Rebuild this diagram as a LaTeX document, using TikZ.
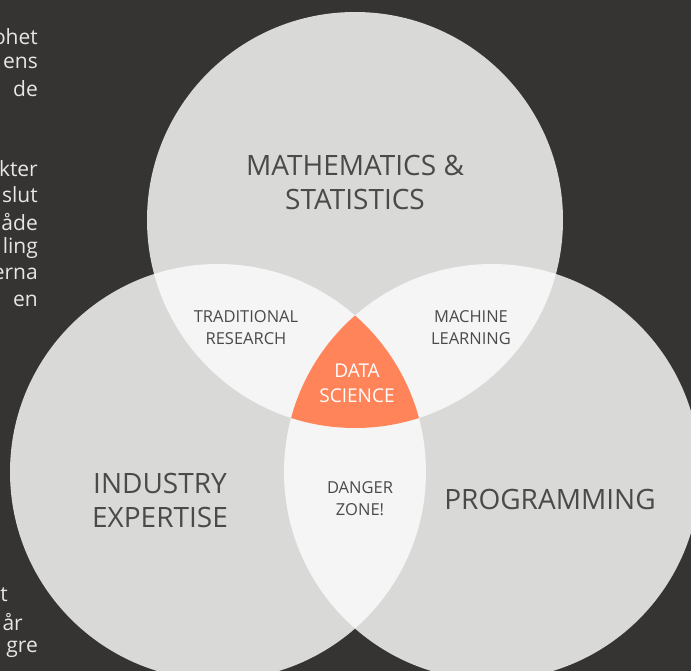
\documentclass[tikz,border=0pt]{standalone}
\usepackage{fontspec}
\setmainfont{Open Sans}
\usepackage{tikz}

\definecolor{slate}{HTML}{353433}
\definecolor{setgray}{HTML}{D9D9D8}
\definecolor{pairgray}{HTML}{F5F5F5}
\definecolor{coral}{HTML}{FF845A}
\definecolor{inkgray}{HTML}{4A4A4A}
\definecolor{margintext}{HTML}{E6E6E6}

\tikzset{
  biglabel/.style={text=inkgray,align=center,font=\fontsize{28}{34}\selectfont},
  smalllabel/.style={text=inkgray,align=center,font=\fontsize{16.5}{22}\selectfont},
  marginline/.style={text=margintext,anchor=east,inner sep=0pt,font=\fontsize{21}{24}\selectfont}
}

\def\topset{(355,220) circle (208)}
\def\leftset{(218,472) circle (208)}
\def\rightset{(492,472) circle (208)}

\begin{document}
\begin{tikzpicture}[x=1pt,y=-1pt]
\useasboundingbox (0,0) rectangle (691,671);
\clip (0,0) rectangle (691,671);
\fill[slate] (0,0) rectangle (691,671);

% the three sets
\fill[setgray] \topset;
\fill[setgray] \leftset;
\fill[setgray] \rightset;

% pairwise overlaps
\begin{scope}
  \clip \topset;
  \fill[pairgray] \leftset;
  \fill[pairgray] \rightset;
\end{scope}
\begin{scope}
  \clip \leftset;
  \fill[pairgray] \rightset;
\end{scope}

% centre
\begin{scope}
  \clip \topset;
  \clip \leftset;
  \fill[coral] \rightset;
\end{scope}

\node[biglabel] (maths) at (355,182) {MATHEMATICS \&\\STATISTICS};
\node[biglabel] (industry) at (160,500) {INDUSTRY\\EXPERTISE};
\node[biglabel] (prog) at (550,499) {PROGRAMMING};

\node[smalllabel] (research) at (246,328) {TRADITIONAL\\RESEARCH};
\node[smalllabel] (ml) at (471,328) {MACHINE\\LEARNING};
\node[smalllabel] (danger) at (360,499) {DANGER\\ZONE!};
\node[smalllabel,text=white,font=\fontsize{19}{25}\selectfont] (ds) at (357,383) {DATA\\SCIENCE};

% cut-off text at the left margin
\node[marginline] (m1) at (38,37) {ohet};
\node[marginline] (m2) at (38,63) {ens};
\node[marginline] (m3) at (38,89) {de};
\node[marginline] (m4) at (38,169) {kter};
\node[marginline] (m5) at (38,195) {slut};
\node[marginline] (m6) at (38,222) {åde};
\node[marginline] (m7) at (38,248) {ling};
\node[marginline] (m8) at (38,274) {erna};
\node[marginline] (m9) at (38,301) {en};
\node[marginline] (m10) at (8,595) {t};
\node[marginline] (m11) at (23,622) {år};
\node[marginline] (m12) at (38,649) {gre};

\end{tikzpicture}
\end{document}
